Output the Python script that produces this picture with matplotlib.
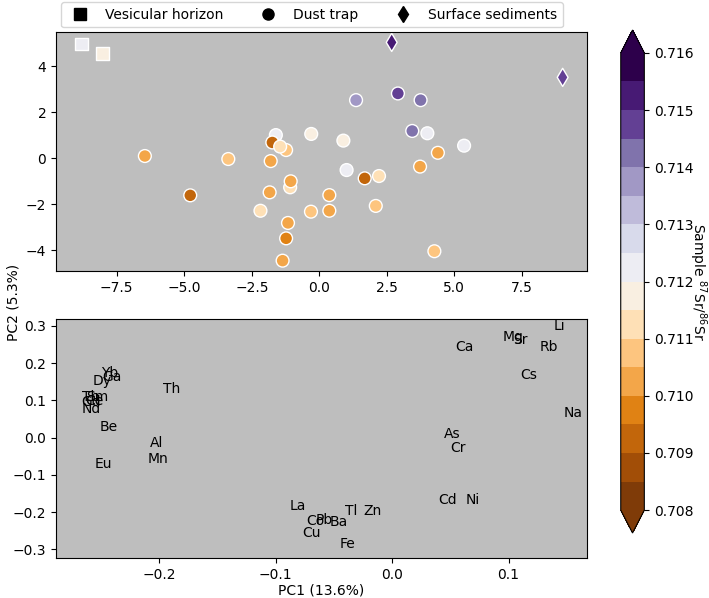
import numpy as np
import matplotlib
matplotlib.use('Agg')
import matplotlib.pyplot as plt
from matplotlib.colors import BoundaryNorm
from matplotlib.lines import Line2D

# Scores PC1/PC2 y 87Sr/86Sr de cada muestra
vh_pc1 = [-8.82, -8.03]
vh_pc2 = [4.97, 4.56]
vh_sr = [0.7122, 0.7117]

dt_pc1 = [-6.46, -4.78, -3.37, -1.61, -1.74, -1.23, -1.45, -1.80, -0.30, 0.89,
          1.01, 1.36, -1.08, -1.06, -1.84, -2.18, -1.16, -1.23, -1.36, -0.31,
          0.37, 0.37, 2.91, 3.75, 3.44, 4.00, 5.36, 4.39, 3.73, 1.68,
          2.21, 2.09, 4.26]
dt_pc2 = [0.10, -1.61, -0.03, 1.01, 0.69, 0.36, 0.51, -0.12, 1.06, 0.77,
          -0.51, 2.53, -1.26, -1.00, -1.48, -2.28, -2.81, -3.48, -4.45, -2.32,
          -1.60, -2.28, 2.82, 2.53, 1.19, 1.09, 0.55, 0.24, -0.36, -0.87,
          -0.77, -2.07, -4.04]
dt_sr = [0.7102, 0.7092, 0.7107, 0.7122, 0.7092, 0.7107, 0.7112, 0.7102, 0.7117, 0.7117,
         0.7122, 0.7137, 0.7112, 0.7102, 0.7102, 0.7112, 0.7102, 0.7097, 0.7102, 0.7107,
         0.7102, 0.7102, 0.7147, 0.7142, 0.7142, 0.7122, 0.7122, 0.7102, 0.7102, 0.7092,
         0.7112, 0.7107, 0.7107]

ss_pc1 = [2.68, 9.01]
ss_pc2 = [5.04, 3.52]
ss_sr = [0.7152, 0.7147]

# Loadings de los elementos
elementos = ['Yb', 'Ga', 'Dy', 'Tb', 'Sm', 'Gd', 'Ce', 'Nd', 'Th', 'Be', 'Al', 'Mn', 'Eu',
             'La', 'Co', 'Pb', 'Ba', 'Cu', 'Fe', 'Tl', 'Zn', 'Cd', 'Ni', 'As', 'Cr',
             'Ca', 'Mg', 'Sr', 'Li', 'Rb', 'Cs', 'Na']
load_pc1 = [-0.2502, -0.2492, -0.2572, -0.2666, -0.2629, -0.2666, -0.2640, -0.2666, -0.1970,
            -0.2515, -0.2079, -0.2103, -0.2558, -0.0877, -0.0740, -0.0654, -0.0533, -0.0776,
            -0.0447, -0.0405, -0.0247, 0.0397, 0.0635, 0.0448, 0.0503, 0.0546, 0.0950,
            0.1036, 0.1385, 0.1270, 0.1101, 0.1470]
load_pc2 = [0.164, 0.152, 0.141, 0.099, 0.099, 0.085, 0.087, 0.065, 0.119,
            0.019, -0.026, -0.068, -0.081, -0.193, -0.235, -0.233, -0.238, -0.268,
            -0.296, -0.208, -0.208, -0.177, -0.179, -0.002, -0.038, 0.233, 0.260,
            0.251, 0.289, 0.233, 0.158, 0.056]

niveles = np.linspace(0.708, 0.716, 17)
cmap = plt.get_cmap('PuOr', 16)
norm = BoundaryNorm(niveles, cmap.N)

fig = plt.figure(figsize=(7.09, 5.98), dpi=100)
ax1 = fig.add_axes([0.0790, 0.5468, 0.7485, 0.3992])
ax2 = fig.add_axes([0.0790, 0.0664, 0.7485, 0.3997])
cax = fig.add_axes([0.8755, 0.1087, 0.0333, 0.8411])

fondo = '#bebebe'
tam = 85

# Scores
ax1.set_facecolor(fondo)
ax1.scatter(vh_pc1, vh_pc2, c=vh_sr, cmap=cmap, norm=norm, marker='s', s=tam,
            edgecolors='white', linewidths=1)
sc = ax1.scatter(dt_pc1, dt_pc2, c=dt_sr, cmap=cmap, norm=norm, marker='o', s=tam,
                 edgecolors='white', linewidths=1)
ax1.scatter(ss_pc1, ss_pc2, c=ss_sr, cmap=cmap, norm=norm, marker='d', s=tam,
            edgecolors='white', linewidths=1)
ax1.set_xlim(-9.75, 9.90)
ax1.set_ylim(-4.9, 5.48)

handles = [Line2D([], [], marker='s', color='k', linestyle='None', markersize=8),
           Line2D([], [], marker='o', color='k', linestyle='None', markersize=8),
           Line2D([], [], marker='d', color='k', linestyle='None', markersize=8)]
ax1.legend(handles, ['Vesicular horizon', 'Dust trap', 'Surface sediments'],
           loc='lower left', bbox_to_anchor=(0, 1), ncol=3, borderaxespad=0.35,
           columnspacing=2.2)

# Loadings
ax2.set_facecolor(fondo)
for el, x, y in zip(elementos, load_pc1, load_pc2):
    ax2.text(x, y, el, fontsize=10)
ax2.set_xlim(-0.2887, 0.1671)
ax2.set_ylim(-0.324, 0.318)
ax2.set_xlabel('PC1 (13.6%)', labelpad=1)

fig.text(14 / 709, 0.494, 'PC2 (5.3%)', rotation=90, ha='center', va='center', fontsize=10)

cbar = fig.colorbar(sc, cax=cax, extend='both', ticks=np.arange(0.708, 0.7161, 0.001))
cbar.ax.set_yticklabels(['%.3f' % t for t in np.arange(0.708, 0.7161, 0.001)])
cbar.ax.minorticks_off()
cbar.set_label('Sample $^{87}$Sr/$^{86}$Sr', rotation=270, labelpad=11)

fig.savefig('out.png', dpi=100)
